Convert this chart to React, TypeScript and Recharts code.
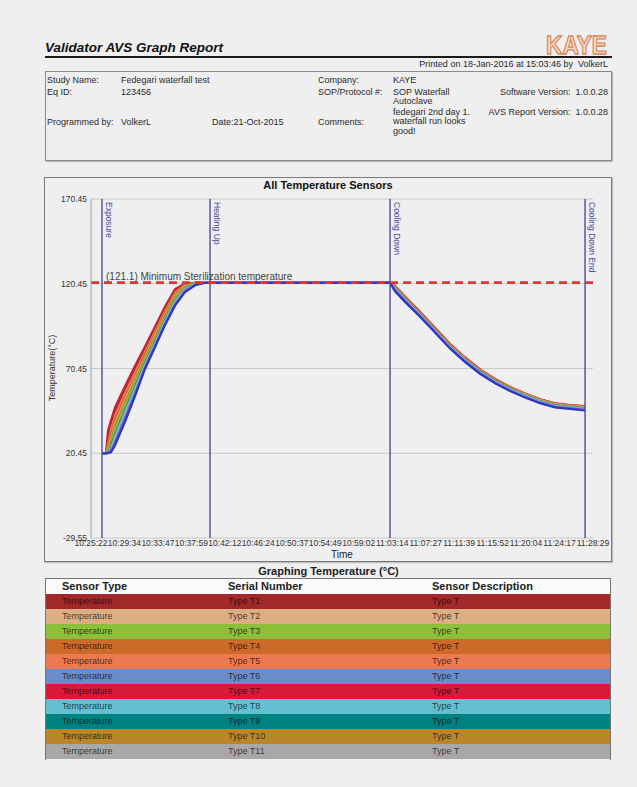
import { CartesianGrid, Line, LineChart, ReferenceLine, XAxis, YAxis } from "recharts";

const FONT = '"Liberation Sans", Arial, sans-serif';

// x axis tick labels (clock time)
const TIME_LABELS = [
  "10:25:22", "10:29:34", "10:33:47", "10:37:59", "10:42:12", "10:46:24", "10:50:37", "10:54:49",
  "10:59:02", "11:03:14", "11:07:27", "11:11:39", "11:15:52", "11:20:04", "11:24:17", "11:28:29",
];

// sample times of the logged readings
const SAMPLE_TIMES = [
  "10:26:45", "10:27:15", "10:27:30", "10:27:53", "10:28:23", "10:29:39", "10:30:54", "10:32:09",
  "10:33:25", "10:34:40", "10:35:56", "10:37:11", "10:38:27", "10:39:42", "10:51:39", "11:02:58",
  "11:03:35", "11:04:51", "11:06:44", "11:08:37", "11:10:30", "11:12:24", "11:14:17", "11:16:10",
  "11:18:03", "11:19:56", "11:21:50", "11:23:42", "11:25:36", "11:27:29",
];

const T7 = [20.45, 20.6, 34.0, 40.1, 47.6, 60.2, 72.1, 83.4, 95.2, 107.1, 117.4, 120.6, 121.1, 121.1, 121.2, 121.1, 119.3, 113.0, 104.0, 94.6, 85.1, 77.0, 70.0, 64.3, 59.6, 55.8, 52.4, 50.0, 48.9, 48.4];
const T1 = [20.45, 20.5, 29.5, 37.8, 45.2, 58.1, 70.0, 81.9, 93.8, 105.9, 116.3, 120.3, 121.0, 121.1, 121.1, 121.1, 119.0, 112.6, 103.6, 94.2, 84.7, 76.7, 69.7, 64.1, 59.5, 55.6, 52.2, 49.8, 48.8, 48.1];
const T5 = [20.45, 20.5, 25.8, 34.9, 42.6, 56.0, 68.3, 80.4, 92.5, 104.6, 115.4, 120.0, 121.0, 121.1, 121.2, 121.1, 118.9, 112.4, 103.3, 93.9, 84.5, 76.5, 69.6, 63.9, 59.3, 55.5, 52.1, 49.7, 48.7, 48.0];
const T4 = [20.45, 20.5, 23.9, 32.1, 40.3, 53.7, 66.1, 78.8, 91.0, 103.3, 114.2, 119.6, 120.9, 121.1, 121.0, 121.1, 118.6, 112.0, 103.0, 93.6, 84.2, 76.2, 69.3, 63.7, 59.1, 55.3, 51.9, 49.5, 48.5, 47.8];
const T2 = [20.45, 20.5, 22.8, 30.2, 37.9, 51.8, 64.6, 77.2, 89.6, 102.0, 113.1, 119.0, 120.8, 121.1, 121.1, 121.1, 118.4, 111.8, 102.8, 93.4, 84.0, 76.0, 69.1, 63.5, 58.9, 55.1, 51.7, 49.3, 48.3, 47.6];
const T10 = [20.45, 20.5, 22.1, 28.6, 36.7, 50.5, 63.4, 76.5, 88.8, 101.4, 112.6, 118.8, 120.7, 121.1, 121.0, 121.1, 118.2, 111.6, 102.6, 93.2, 83.8, 75.8, 68.9, 63.3, 58.7, 54.9, 51.5, 49.1, 48.1, 47.4];
const T3 = [20.45, 20.5, 21.6, 26.4, 33.9, 48.2, 61.5, 75.1, 87.5, 100.2, 111.5, 118.3, 120.6, 121.0, 121.1, 121.1, 118.0, 111.5, 102.5, 93.1, 83.7, 75.7, 68.8, 63.2, 58.6, 54.8, 51.4, 49.0, 48.0, 47.3];
const T9 = [20.45, 20.5, 21.2, 24.8, 31.6, 46.0, 59.7, 73.6, 86.2, 99.1, 110.4, 117.6, 120.4, 121.0, 121.0, 121.1, 117.7, 111.2, 102.3, 92.9, 83.5, 75.5, 68.6, 63.0, 58.4, 54.6, 51.2, 48.8, 47.8, 47.0];
const T8 = [20.45, 20.45, 21.0, 23.9, 30.5, 44.8, 58.8, 72.9, 85.6, 98.5, 109.9, 117.3, 120.3, 121.0, 121.1, 121.1, 117.5, 111.0, 102.0, 92.7, 83.3, 75.3, 68.4, 62.8, 58.2, 54.4, 51.0, 48.6, 47.6, 46.8];
const T11 = [20.45, 20.45, 20.9, 23.2, 29.2, 43.7, 57.9, 72.3, 85.1, 97.9, 109.3, 117.0, 120.2, 121.0, 121.0, 121.1, 117.2, 110.8, 101.9, 92.5, 83.1, 75.1, 68.2, 62.6, 58.0, 54.2, 50.8, 48.4, 47.4, 46.6];
const T6 = [20.45, 20.45, 20.7, 22.3, 27.6, 41.9, 56.4, 71.4, 84.2, 97.0, 108.5, 116.4, 120.0, 121.0, 121.1, 121.1, 116.9, 110.5, 101.6, 92.2, 82.8, 74.8, 67.9, 62.3, 57.7, 53.9, 50.5, 48.1, 47.1, 46.3];
const T12 = [20.45, 20.45, 20.6, 21.6, 26.2, 40.4, 55.1, 70.6, 83.6, 96.4, 108.0, 115.9, 119.8, 121.0, 121.0, 121.1, 116.5, 110.1, 101.3, 91.9, 82.5, 74.5, 67.6, 62.0, 57.4, 53.6, 50.2, 47.8, 46.8, 46.0];
const T13 = [20.45, 20.45, 20.5, 21.0, 25.0, 39.0, 54.0, 70.0, 83.0, 96.0, 107.5, 115.5, 119.5, 121.0, 121.1, 121.1, 116.0, 109.7, 100.9, 91.6, 82.2, 74.2, 67.3, 61.7, 57.1, 53.3, 49.9, 47.5, 46.5, 45.6];

const SENSOR_COLORS: Record<string, string> = {
  T1: "#a3282a", T2: "#dcae84", T3: "#8cc03a", T4: "#cc6a2a", T5: "#ec7a50", T6: "#6a8cc8",
  T7: "#d81a3a", T8: "#62c0d0", T9: "#008282", T10: "#bb8628", T11: "#a8a8a8", T12: "#7a3cc8", T13: "#2a36c8",
};

// drawing order: leading sensors first, lagging ones on top
const PLOT_SERIES: [string, number[]][] = [
  ["T7", T7], ["T1", T1], ["T5", T5], ["T4", T4], ["T2", T2], ["T10", T10], ["T3", T3],
  ["T9", T9], ["T8", T8], ["T11", T11], ["T6", T6], ["T12", T12], ["T13", T13],
];

const TABLE_SENSORS = ["T1", "T2", "T3", "T4", "T5", "T6", "T7", "T8", "T9", "T10", "T11"];

const EVENTS = [
  { time: "10:26:45", name: "Exposure" },
  { time: "10:40:20", name: "Heating Up" },
  { time: "11:02:58", name: "Cooling Down" },
  { time: "11:27:29", name: "Cooling Down End" },
];

const MIN_STERILIZATION = 121.1;
const Y_TICKS = [-29.55, 20.45, 70.45, 120.45, 170.45];

const clock = (s: string) => {
  const [h, m, sec] = s.split(":").map(Number);
  return h * 3600 + m * 60 + sec;
};
const T0 = clock(TIME_LABELS[0]);
const elapsed = (s: string) => clock(s) - T0;
const X_TICKS = TIME_LABELS.map(elapsed);

const data = SAMPLE_TIMES.map((t, i) => {
  const row: Record<string, number> = { t: elapsed(t) };
  PLOT_SERIES.forEach(([k, v]) => (row[k] = v[i]));
  return row;
});

function EventLabel(props: any) {
  const vb = props.viewBox;
  if (!vb) return null;
  const x = vb.x + 4;
  const y = vb.y + 3;
  return (
    <text x={x} y={y} transform={`rotate(90 ${x} ${y})`} fill="#4b4b9a" fontSize={8.5} fontFamily={FONT}>
      {props.text}
    </text>
  );
}

function MinLabel(props: any) {
  const vb = props.viewBox;
  if (!vb) return null;
  return (
    <text x={vb.x + 15} y={vb.y - 3} fill="#444" fontSize={10} fontFamily={FONT}>
      ({MIN_STERILIZATION}) Minimum Sterilization temperature
    </text>
  );
}

const abs = (left: number, top: number, extra: React.CSSProperties = {}): React.CSSProperties => ({
  position: "absolute",
  left,
  top,
  whiteSpace: "nowrap",
  ...extra,
});

function InfoText({ x, y, children, right }: { x: number; y: number; children: React.ReactNode; right?: boolean }) {
  const style: React.CSSProperties = right
    ? { position: "absolute", right: 637 - x, top: y - 5.5, whiteSpace: "nowrap", lineHeight: "11px" }
    : { position: "absolute", left: x, top: y - 5.5, whiteSpace: "nowrap", lineHeight: "11px" };
  return <div style={style}>{children}</div>;
}

export default function App() {
  return (
    <div
      style={{
        position: "absolute",
        left: 0,
        top: 0,
        width: 637,
        height: 787,
        background: "#efefef",
        fontFamily: FONT,
        color: "#2a2a2a",
        overflow: "hidden",
      }}
    >
      {/* header */}
      <div style={abs(45, 40, { fontSize: 13.5, fontWeight: 700, fontStyle: "italic", lineHeight: "16px", color: "#111" })}>
        Validator AVS Graph Report
      </div>
      <div style={abs(45, 56, { width: 567, height: 1.5, background: "#1a1a1a" })} />
      <svg style={abs(543, 28)} width={70} height={30}>
        <text
          x={3}
          y={26}
          fontSize={25}
          fontWeight={700}
          fontFamily={FONT}
          textLength={61}
          lengthAdjust="spacingAndGlyphs"
          fill="#f6dccb"
          stroke="#d98a60"
          strokeWidth={1.3}
        >
          KAYE
        </text>
      </svg>
      <div style={{ fontSize: 9 }}>
        <InfoText x={608} y={64.5} right>
          Printed on 18-Jan-2016 at 15:03:46 by&nbsp; VolkerL
        </InfoText>
      </div>

      <div
        style={abs(45, 71, {
          width: 567,
          height: 90,
          border: "1px solid #8a8a8a",
          boxSizing: "border-box",
          boxShadow: "1px 1px 1px #bdbdbd",
        })}
      />
      <div style={{ fontSize: 9 }}>
        <InfoText x={47} y={80}>Study Name:</InfoText>
        <InfoText x={121} y={80}>Fedegari waterfall test</InfoText>
        <InfoText x={47} y={92}>Eq ID:</InfoText>
        <InfoText x={121} y={92}>123456</InfoText>
        <InfoText x={47} y={122}>Programmed by:</InfoText>
        <InfoText x={121} y={122}>VolkerL</InfoText>
        <InfoText x={212} y={122}>Date:21-Oct-2015</InfoText>
        <InfoText x={318} y={80}>Company:</InfoText>
        <InfoText x={393} y={80}>KAYE</InfoText>
        <InfoText x={318} y={92}>SOP/Protocol #:</InfoText>
        <InfoText x={393} y={92}>SOP Waterfall</InfoText>
        <InfoText x={393} y={101.5}>Autoclave</InfoText>
        <InfoText x={318} y={122}>Comments:</InfoText>
        <InfoText x={393} y={112}>fedegari 2nd day 1.</InfoText>
        <InfoText x={393} y={121.5}>waterfall run looks</InfoText>
        <InfoText x={393} y={131}>good!</InfoText>
        <InfoText x={608} y={92} right>Software Version:&nbsp; 1.0.0.28</InfoText>
        <InfoText x={608} y={112} right>AVS Report Version:&nbsp; 1.0.0.28</InfoText>
      </div>

      {/* chart */}
      <div
        style={abs(44, 177, {
          width: 568,
          height: 385,
          border: "1px solid #7a7a7a",
          boxSizing: "border-box",
          boxShadow: "1px 1px 1px #bdbdbd",
        })}
      />
      <div style={abs(44, 179, { width: 568, textAlign: "center", fontSize: 11, fontWeight: 700, color: "#111", lineHeight: "13px" })}>
        All Temperature Sensors
      </div>
      <div
        style={abs(52, 368, {
          fontSize: 9,
          lineHeight: "10px",
          transform: "translate(-50%, -50%) rotate(-90deg)",
          color: "#333",
        })}
      >
        Temperature(°C)
      </div>
      <div style={abs(91, 549, { width: 502, textAlign: "center", fontSize: 10, lineHeight: "12px", color: "#222" })}>
        Time
      </div>
      <div style={abs(44, 177)}>
        <LineChart width={568} height={385} data={data} margin={{ top: 22, right: 19, bottom: 10, left: 7 }}>
          <CartesianGrid vertical={false} stroke="#c9c9c9" horizontalValues={Y_TICKS} />
          <XAxis
            type="number"
            dataKey="t"
            domain={[X_TICKS[0], X_TICKS[X_TICKS.length - 1]]}
            ticks={X_TICKS}
            interval={0}
            tickFormatter={(_v: number, i: number) => TIME_LABELS[i]}
            tick={{ fontSize: 8.5, fill: "#333", fontFamily: FONT }}
            tickLine={false}
            tickSize={2}
            tickMargin={0}
            axisLine={false}
            height={14}
          />
          <YAxis
            type="number"
            domain={[-29.55, 170.45]}
            ticks={Y_TICKS}
            interval={0}
            tickFormatter={(v: number) => v.toFixed(2)}
            tick={{ fontSize: 8.5, fill: "#333", fontFamily: FONT }}
            tickLine={false}
            tickSize={2}
            tickMargin={2}
            axisLine={{ stroke: "#a0a0a0" }}
            width={40}
          />
          {PLOT_SERIES.map(([k]) => (
            <Line
              key={k}
              type="linear"
              dataKey={k}
              stroke={SENSOR_COLORS[k]}
              strokeWidth={2}
              dot={false}
              isAnimationActive={false}
            />
          ))}
          {EVENTS.map((e) => (
            <ReferenceLine
              key={e.name}
              x={elapsed(e.time)}
              stroke="#4b4b9a"
              strokeWidth={1.4}
              label={(p: any) => <EventLabel {...p} text={e.name} />}
            />
          ))}
          <ReferenceLine
            y={MIN_STERILIZATION}
            stroke="#d8373a"
            strokeWidth={2.6}
            strokeDasharray="8 5"
            label={(p: any) => <MinLabel {...p} />}
          />
        </LineChart>
      </div>

      {/* sensor table */}
      <div style={abs(45, 565, { width: 567, textAlign: "center", fontSize: 11, fontWeight: 700, lineHeight: "13px", color: "#222" })}>
        Graphing Temperature (°C)
      </div>
      <div
        style={abs(45, 578, {
          width: 566,
          height: 182,
          border: "1px solid #777",
          borderBottom: "none",
          boxSizing: "border-box",
          overflow: "hidden",
        })}
      >
        <div style={{ position: "relative", height: 15, background: "#fafafa", fontSize: 11, fontWeight: 700, lineHeight: "15px", color: "#222" }}>
          <span style={{ position: "absolute", left: 16 }}>Sensor Type</span>
          <span style={{ position: "absolute", left: 182 }}>Serial Number</span>
          <span style={{ position: "absolute", left: 386 }}>Sensor Description</span>
        </div>
        {TABLE_SENSORS.map((k) => (
          <div
            key={k}
            style={{
              position: "relative",
              height: 15,
              background: SENSOR_COLORS[k],
              fontSize: 9,
              lineHeight: "15px",
              color: "rgba(0,0,0,0.7)",
            }}
          >
            <span style={{ position: "absolute", left: 16 }}>Temperature</span>
            <span style={{ position: "absolute", left: 182 }}>Type {k}</span>
            <span style={{ position: "absolute", left: 386 }}>Type T</span>
          </div>
        ))}
      </div>
    </div>
  );
}
